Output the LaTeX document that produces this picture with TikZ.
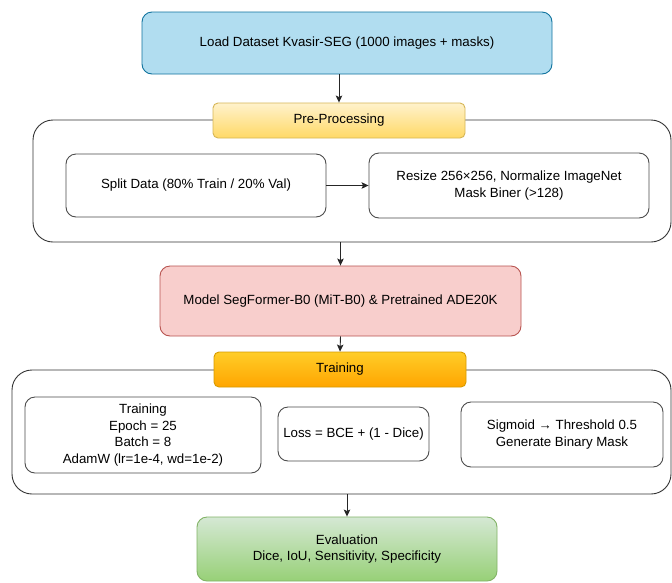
\documentclass[tikz,border=0pt]{standalone}
\usepackage{fontspec}
\setmainfont{Liberation Sans}
\usepackage{xcolor}
\usetikzlibrary{arrows.meta,positioning}

\definecolor{loadfill}{HTML}{B1DDF0}
\definecolor{loaddraw}{HTML}{10739E}
\definecolor{preptop}{HTML}{FFF2CC}
\definecolor{prepbottom}{HTML}{FFD966}
\definecolor{prepdraw}{HTML}{D6B656}
\definecolor{modelfill}{HTML}{F8CECC}
\definecolor{modeldraw}{HTML}{B85450}
\definecolor{traintop}{HTML}{FFCD28}
\definecolor{trainbottom}{HTML}{FFA500}
\definecolor{traindraw}{HTML}{D79B00}
\definecolor{evaltop}{HTML}{D5E8D4}
\definecolor{evalbottom}{HTML}{97D077}
\definecolor{evaldraw}{HTML}{82B366}

\begin{document}
\begin{tikzpicture}[
    x=1pt, y=-1pt,
    >={Stealth[length=7pt,width=6.5pt,inset=1.5pt]},
    every node/.style={font=\fontsize{13.3}{16.5}\selectfont, align=center, inner sep=0pt, text=black},
    stage/.style={rectangle, draw, line width=0.9pt, rounded corners=10pt},
    header/.style={rectangle, draw, line width=0.9pt, rounded corners=5pt, minimum width=252pt, minimum height=35pt},
    group/.style={rectangle, draw=black!80, line width=0.9pt, rounded corners=20pt, fill=white},
    step box/.style={rectangle, draw=black!70, line width=0.9pt, rounded corners=10pt, fill=white},
    link/.style={->, line width=0.9pt, black!85}
]
\useasboundingbox (0,0) rectangle (672,582);
\clip (0,0) rectangle (672,582);
\fill[white] (0,0) rectangle (672,582);

% dataset
\node[stage, fill=loadfill, draw=loaddraw, minimum width=410pt, minimum height=62pt] (load) at (347,43) {Load Dataset Kvasir-SEG (1000 images + masks)};

% pre-processing group
\node[group, minimum width=638pt, minimum height=122pt] (pregroup) at (352,181) {};
\node[header, top color=preptop, bottom color=prepbottom, draw=prepdraw] (prep) at (339,120.5) {Pre-Processing};
\node[step box, minimum width=260pt, minimum height=63pt] (split) at (196,185.5) {Split Data (80\% Train / 20\% Val)};
\node[step box, minimum width=280pt, minimum height=65pt] (resize) at (509,185.5) {Resize 256×256, Normalize ImageNet\\Mask Biner (>128)};

% model
\node[stage, fill=modelfill, draw=modeldraw, minimum width=361pt, minimum height=70pt] (model) at (340.5,301) {Model SegFormer-B0 (MiT-B0) \& Pretrained ADE20K};

% training group
\node[group, minimum width=659pt, minimum height=124pt] (traingroup) at (341.5,432) {};
\node[header, top color=traintop, bottom color=trainbottom, draw=traindraw] (train) at (340,369.5) {Training};
\node[step box, minimum width=236pt, minimum height=76pt] (trainbox) at (143,435) {Training\\Epoch = 25\\Batch = 8\\AdamW (lr=1e-4, wd=1e-2)};
\node[step box, minimum width=151pt, minimum height=54pt] (loss) at (353.5,434) {Loss = BCE + (1 - Dice)};
\node[step box, minimum width=202pt, minimum height=65pt] (sigmoid) at (562,434.5) {Sigmoid → Threshold 0.5\\Generate Binary Mask};

% evaluation
\node[stage, top color=evaltop, bottom color=evalbottom, draw=evaldraw, minimum width=300pt, minimum height=64pt] (eval) at (347,549) {Evaluation\\Dice, IoU, Sensitivity, Specificity};

\draw[link] (prep.north |- load.south) -- (prep.north);
\draw[link] (split.east) -- (resize.west);
\draw[link] (model.north |- pregroup.south) -- (model.north);
\draw[link] (model.south) -- (train.north);
\draw[link] (eval.north |- traingroup.south) -- (eval.north);
\end{tikzpicture}
\end{document}
